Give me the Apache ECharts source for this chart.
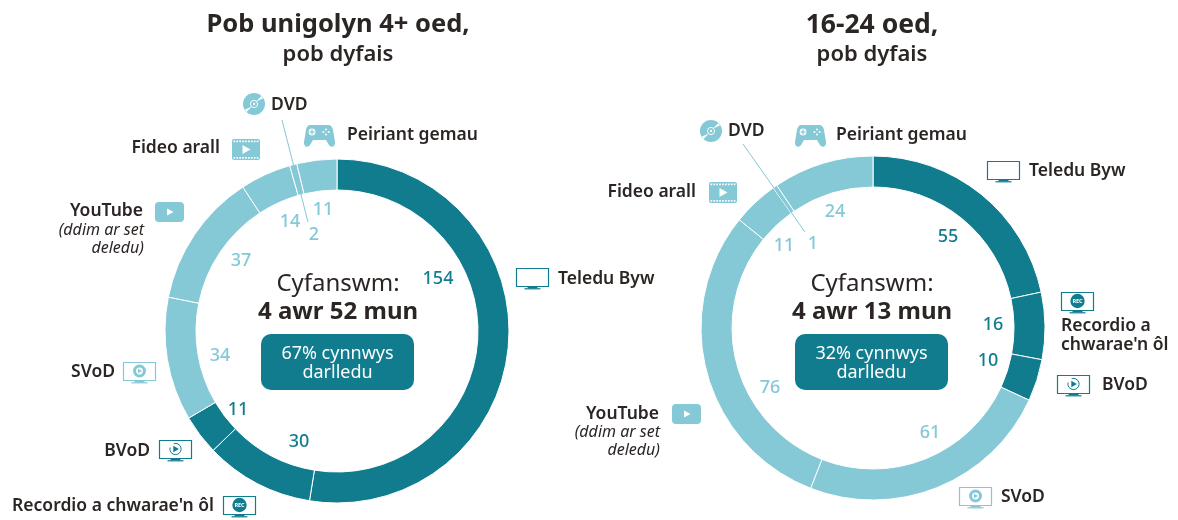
<!DOCTYPE html>
<html>
<head>
<meta charset="utf-8">
<title>Cyfanswm amser gwylio</title>
<script src="https://cdn.jsdelivr.net/npm/echarts@6/dist/echarts.min.js"></script>
<style>
  html, body { margin: 0; padding: 0; background: #fff; }
  #chart { width: 1178px; height: 520px; }
</style>
</head>
<body>
<div id="chart"></div>
<script>
  // data
  const categories = ['Teledu Byw', 'Recordio a chwarae\'n ôl', 'BVoD', 'SVoD', 'YouTube', 'Fideo arall', 'DVD', 'Peiriant gemau']
  const allValues = [154, 30, 11, 34, 37, 14, 2, 11]
  const youngValues = [55, 16, 10, 61, 76, 11, 1, 24]
  const broadcastCount = 3 // the first three slices are broadcast content

  const DARK = '#107c8e'
  const LIGHT = '#85c8d6'
  const INK = '#2b2624'
  const FONT = '"Noto Sans", sans-serif'

  // where each value sits, hand placed like in the original
  const allLabelPos = [[438, 279], [299, 442], [238, 410], [220, 356], [241, 261], [290, 222], [314, 235], [323, 210]]
  const youngLabelPos = [[948, 237], [993, 325], [988, 361], [930, 433], [770, 388], [784, 246], [813, 244], [835, 212]]

  // gamepad outline, zrender has no generic path element in graphic
  echarts.graphic.registerShape('gamepad', echarts.graphic.extendPath(
    'M6 0 H24 C27 0 28.5 2 29 5 L31 17 C31.5 22 27 23 25 20 L22 15 H9 L6 20 C4 23 -0.5 22 0 17 L2 5 C2.5 2 4 0 6 0 Z'
  ))

  function makeSeries(values, center, labelPos) {
    return {
      type: 'pie',
      center: center,
      radius: [141, 172],
      startAngle: 90,
      clockwise: true,
      silent: true,
      animation: false,
      avoidLabelOverlap: false,
      itemStyle: { borderColor: '#fff', borderWidth: 1 },
      labelLine: { show: false },
      labelLayout: function (params) {
        const p = labelPos[params.dataIndex]
        return { x: p[0], y: p[1], align: 'center', verticalAlign: 'middle' }
      },
      data: values.map(function (v, i) {
        const color = i < broadcastCount ? DARK : LIGHT
        return {
          name: categories[i],
          value: v,
          itemStyle: { color: color },
          label: { show: true, formatter: '{c}', color: color, fontFamily: FONT, fontSize: 18, fontWeight: 500 }
        }
      })
    }
  }

  // --- small drawing helpers for texts and icons ---
  function text(str, x, y, size, opts) {
    opts = opts || {}
    return {
      type: 'text',
      x: x, y: y + 1, // Noto sits a little high when centred
      style: {
        text: str,
        fontFamily: FONT,
        fontSize: size,
        fontWeight: opts.weight || 'normal',
        fontStyle: opts.italic ? 'italic' : 'normal',
        fill: opts.color || INK,
        align: opts.align || 'left',
        verticalAlign: 'middle'
      }
    }
  }
  function rect(x, y, w, h, r, style) {
    return { type: 'rect', shape: { x: x, y: y, width: w, height: h, r: r }, style: style }
  }
  function circle(cx, cy, r, style) {
    return { type: 'circle', shape: { cx: cx, cy: cy, r: r }, style: style }
  }
  function triangle(x1, y1, x2, y2, x3, y3, fill) {
    return { type: 'polygon', shape: { points: [[x1, y1], [x2, y2], [x3, y3]] }, style: { fill: fill } }
  }
  function line(x1, y1, x2, y2, color, w) {
    return { type: 'line', shape: { x1: x1, y1: y1, x2: x2, y2: y2 }, style: { stroke: color, lineWidth: w } }
  }

  function tvIcon(x, y, color, glyph) {
    const mx = x + 16.5, my = y + 9
    const els = [
      rect(x + 0.5, y + 0.5, 32, 18, 0, { fill: '#fff', stroke: color, lineWidth: 1.2 }),
      rect(mx - 5, y + 19, 10, 1.4, 0, { fill: color }),
      rect(mx - 8, y + 20.2, 16, 1.2, 0, { fill: color })
    ]
    if (glyph === 'play') {
      els.push(circle(mx, my, 6.5, { fill: color }))
      els.push(circle(mx, my, 3.4, { fill: '#fff' }))
      els.push(triangle(mx - 1.5, my - 2.2, mx - 1.5, my + 2.2, mx + 2.5, my, color))
    } else if (glyph === 'replay') {
      els.push({ type: 'arc', shape: { cx: mx, cy: my, r: 5.6, startAngle: -1.9, endAngle: 3.4, clockwise: true }, style: { stroke: color, fill: 'none', lineWidth: 1 } })
      els.push(triangle(mx - 2.2, my - 3.2, mx - 2.2, my + 3.2, mx + 3.4, my, color))
    } else if (glyph === 'rec') {
      els.push(circle(mx, my, 7.2, { fill: color }))
      els.push({ type: 'text', x: mx, y: my, style: { text: 'REC', fontFamily: FONT, fontSize: 5.5, fontWeight: 'bold', fill: '#fff', align: 'center', verticalAlign: 'middle' } })
    }
    return els
  }
  function youtubeIcon(x, y) {
    return [
      rect(x, y, 29, 20, 4, { fill: LIGHT }),
      triangle(x + 12, y + 6.5, x + 12, y + 13.5, x + 18.5, y + 10, '#fff')
    ]
  }
  function filmIcon(x, y) {
    const els = [rect(x, y, 28, 21, 2, { fill: LIGHT })]
    for (let i = 0; i < 9; i++) {
      els.push(rect(x + 1.5 + i * 2.9, y + 1.5, 1.7, 1.7, 0, { fill: '#fff' }))
      els.push(rect(x + 1.5 + i * 2.9, y + 18, 1.7, 1.7, 0, { fill: '#fff' }))
    }
    els.push(triangle(x + 10.5, y + 6, x + 10.5, y + 15, x + 18.5, y + 10.5, '#fff'))
    return els
  }
  function dvdIcon(cx, cy) {
    return [
      circle(cx, cy, 11, { fill: LIGHT }),
      { type: 'polygon', shape: { points: [[cx + 2, cy - 2.5], [cx + 7.5, cy - 8], [cx + 9, cy - 5.5]] }, style: { fill: '#fff' } },
      { type: 'polygon', shape: { points: [[cx - 2, cy + 2.5], [cx - 7.5, cy + 8], [cx - 9, cy + 5.5]] }, style: { fill: '#fff' } },
      circle(cx, cy, 3.6, { fill: LIGHT, stroke: '#fff', lineWidth: 1 }),
      circle(cx, cy, 1.2, { fill: '#fff' })
    ]
  }
  function padIcon(x, y) {
    const els = [{ type: 'gamepad', x: x, y: y, style: { fill: LIGHT } }]
    els.push(circle(x + 8, y + 7, 3.4, { fill: '#fff' }))
    els.push(rect(x + 7.4, y + 4.6, 1.2, 4.8, 0, { fill: LIGHT }))
    els.push(rect(x + 5.6, y + 6.4, 4.8, 1.2, 0, { fill: LIGHT }))
    const dots = [[0, -2.6], [0, 2.6], [-2.6, 0], [2.6, 0]]
    dots.forEach(function (d) { els.push(circle(x + 22 + d[0], y + 7 + d[1], 1, { fill: '#fff' })) })
    return els
  }

  function centerBlock(cx, total, share) {
    return [
      text('Cyfanswm:', cx, 283, 24, { align: 'center' }),
      text(total, cx, 311, 24, { align: 'center', weight: 'bold' }),
      rect(cx - 77, 334, 153, 56, 10, { fill: DARK }),
      text(share, cx - 0.5, 353, 18, { align: 'center', color: '#fff' }),
      text('darlledu', cx - 0.5, 372, 18, { align: 'center', color: '#fff' })
    ]
  }

  const NAME = 17.5
  const W = { weight: 600 }
  const R = { weight: 600, align: 'right' }
  const leftPanel = [
    text('Pob unigolyn 4+ oed,', 338, 24, 25.5, { align: 'center', weight: 'bold' }),
    text('pob dyfais', 338, 54, 22, { align: 'center', weight: 600 }),
    text('DVD', 271, 104, NAME, W),
    text('Peiriant gemau', 347, 134, NAME, W),
    text('Fideo arall', 220, 147, NAME, R),
    text('YouTube', 143, 210, NAME, R),
    text('(ddim ar set', 144, 229, 16, { align: 'right', italic: true }),
    text('deledu)', 144, 247, 16, { align: 'right', italic: true }),
    text('SVoD', 115, 371, NAME, R),
    text('BVoD', 150, 450, NAME, R),
    text('Recordio a chwarae\'n ôl', 214, 505, NAME, R),
    text('Teledu Byw', 558, 278, NAME, W)
  ].concat(
    centerBlock(338, '4 awr 52 mun', '67% cynnwys'),
    dvdIcon(254, 104), padIcon(304, 125), filmIcon(232, 139), youtubeIcon(155, 202),
    tvIcon(123, 362, LIGHT, 'play'), tvIcon(159, 440, DARK, 'replay'), tvIcon(223, 496, DARK, 'rec'), tvIcon(516, 268, DARK)
  )

  const rightPanel = [
    text('16-24 oed,', 872, 24, 26.5, { align: 'center', weight: 'bold' }),
    text('pob dyfais', 872, 54, 22, { align: 'center', weight: 600 }),
    text('DVD', 728, 130, NAME, W),
    text('Peiriant gemau', 836, 134, NAME, W),
    text('Fideo arall', 696, 191, NAME, R),
    text('Teledu Byw', 1029, 170, NAME, W),
    text('Recordio a', 1061, 325, NAME, W),
    text('chwarae\'n ôl', 1061, 344, NAME, W),
    text('BVoD', 1102, 384, NAME, W),
    text('YouTube', 659, 413, NAME, R),
    text('(ddim ar set', 660, 431, 16, { align: 'right', italic: true }),
    text('deledu)', 660, 449, 16, { align: 'right', italic: true }),
    text('SVoD', 1001, 496, NAME, W)
  ].concat(
    centerBlock(872, '4 awr 13 mun', '32% cynnwys'),
    dvdIcon(711, 131), padIcon(795, 125), filmIcon(709, 182), youtubeIcon(672, 404),
    tvIcon(987, 161, DARK), tvIcon(1061, 292, DARK, 'rec'), tvIcon(1057, 375, DARK, 'replay'), tvIcon(959, 487, LIGHT, 'play')
  )

  // leader lines run across the ring, so they go on top of the slices
  const leaders = [
    Object.assign(line(282, 120, 308, 222, LIGHT, 1), { z: 20 }),
    Object.assign(line(743, 144, 805, 232, LIGHT, 1), { z: 20 })
  ]

  const myChart = echarts.init(document.getElementById('chart'), null, { renderer: 'canvas' })
  myChart.setOption({
    animation: false,
    backgroundColor: '#fff',
    series: [
      makeSeries(allValues, [337, 331], allLabelPos),
      makeSeries(youngValues, [873, 328], youngLabelPos)
    ],
    graphic: { elements: leftPanel.concat(rightPanel, leaders) }
  })
</script>
</body>
</html>
